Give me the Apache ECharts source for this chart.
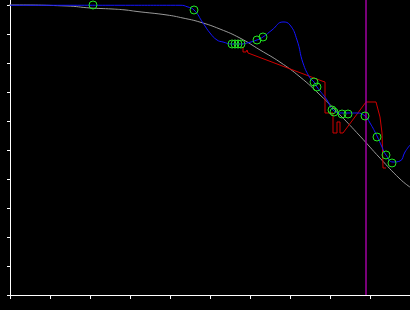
<!DOCTYPE html>
<html>
<head>
<meta charset="utf-8">
<script src="https://cdn.jsdelivr.net/npm/echarts@6/dist/echarts.min.js"></script>
<style>
html,body{margin:0;padding:0;background:#000;}
#c{width:410px;height:310px;}
</style>
</head>
<body>
<div id="c"></div>
<script>
// Reference curve (grey)
var greyX = [-0.25, 0, 1.425, 2.0, 2.55, 2.875, 3.175, 3.925, 4.325, 4.75, 5.25, 5.75, 6.25, 6.75, 7.25, 7.75, 8.25, 8.75, 9.25, 9.75, 10];
var greyY = [1.0, 1.0, 0.9966, 0.9897, 0.9862, 0.983, 0.9776, 0.9655, 0.955, 0.941, 0.917, 0.886, 0.845, 0.803, 0.752, 0.690, 0.621, 0.548, 0.472, 0.400, 0.372];

// Blue smooth curve
var blueX = [0, 1.25, 2.75, 4.275, 4.425, 4.6, 4.825, 5.0, 5.175, 5.325, 5.55, 5.775, 5.925, 6.175, 6.325, 6.55, 6.825, 7.0, 7.175, 7.325, 7.5, 7.6, 7.675, 7.925, 8.075, 8.3, 8.45, 8.675, 8.875, 9.0, 9.175, 9.3, 9.4, 9.575, 9.75, 9.875, 10];
var blueY = [0.999, 0.999, 0.999, 0.999, 0.9941, 0.9828, 0.9379, 0.9034, 0.8793, 0.8724, 0.8655, 0.8655, 0.869, 0.8793, 0.8897, 0.9138, 0.9414, 0.931, 0.8793, 0.80, 0.7483, 0.7345, 0.7172, 0.6724, 0.6379, 0.6276, 0.6276, 0.6276, 0.6172, 0.5931, 0.5483, 0.5103, 0.4828, 0.4586, 0.4621, 0.4931, 0.5172];

// Green observation points
var greenX = [2.075, 4.6, 5.55, 5.625, 5.7, 5.775, 6.175, 6.325, 7.6, 7.675, 8.05, 8.1, 8.3, 8.45, 8.875, 9.175, 9.4, 9.55];
var greenY = [1.0, 0.9828, 0.8655, 0.8655, 0.8655, 0.8655, 0.8793, 0.8897, 0.7345, 0.7172, 0.6379, 0.631, 0.6241, 0.6241, 0.6172, 0.5448, 0.4828, 0.4552];

// Red line
var redX = [5.825, 5.825, 5.9, 5.925, 5.95, 7.8, 7.875, 7.875, 8.075, 8.075, 8.175, 8.175, 8.25, 8.25, 8.325, 8.9, 9.15, 9.25, 9.3, 9.325, 9.4];
var redY = [0.8552, 0.8379, 0.8379, 0.8448, 0.8345, 0.7379, 0.7345, 0.6276, 0.6276, 0.5586, 0.5586, 0.5966, 0.5966, 0.5586, 0.5586, 0.6655, 0.6655, 0.6138, 0.5586, 0.4379, 0.4379];

// Vertical marker
var markerX = 8.9;

// Axis ticks
var xTicks = [0,1,2,3,4,5,6,7,8,9,10];
var yTicks = [0,0.1,0.2,0.3,0.4,0.5,0.6,0.7,0.8,0.9,1.0];

function zip(a, b) { return a.map(function (v, i) { return [v, b[i]]; }); }

var chart = echarts.init(document.getElementById('c'), null, {renderer: 'canvas'});
chart.setOption({
  backgroundColor: '#000',
  animation: false,
  grid: {left: 10, right: 0, top: 0, bottom: 15, containLabel: false},
  xAxis: {
    type: 'value', min: 0, max: 10, interval: 1,
    axisLine: {show: true, onZero: false, lineStyle: {color: '#fff', width: 1}},
    axisTick: {show: true, inside: false, length: 4, lineStyle: {color: '#fff'}, customValues: xTicks},
    axisLabel: {show: false},
    splitLine: {show: false}
  },
  yAxis: {
    type: 'value', min: 0, max: 1.0172, interval: 0.1,
    axisLine: {show: true, onZero: false, lineStyle: {color: '#fff', width: 1}},
    axisTick: {show: true, inside: false, length: 3, lineStyle: {color: '#fff'}, customValues: yTicks},
    axisLabel: {show: false},
    splitLine: {show: false}
  },
  series: [
    {
      type: 'line', data: zip(greyX, greyY), smooth: true, clip: false,
      symbol: 'none', lineStyle: {color: '#999', width: 1}, z: 2,
      markLine: {
        silent: true, symbol: 'none', label: {show: false},
        lineStyle: {color: '#a000a0', width: 1.5, type: 'solid'},
        data: [{xAxis: markerX}]
      }
    },
    {
      type: 'line', data: zip(redX, redY), symbol: 'none',
      lineStyle: {color: '#d00000', width: 1}, z: 3
    },
    {
      type: 'line', data: zip(blueX, blueY), smooth: 0.5, symbol: 'none',
      lineStyle: {color: '#1414ff', width: 1}, z: 4
    },
    {
      type: 'scatter', data: zip(greenX, greenY), symbol: 'circle', symbolSize: 8,
      itemStyle: {color: 'rgba(0,0,0,0)', borderColor: '#22e622', borderWidth: 1, opacity: 1},
      emphasis: {disabled: true},
      z: 5
    }
  ]
});
</script>
</body>
</html>
